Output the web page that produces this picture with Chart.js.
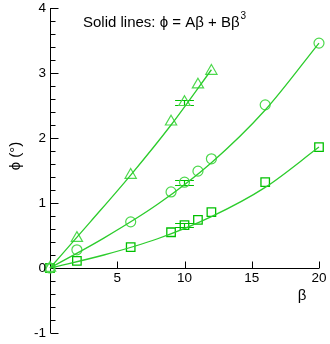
<!DOCTYPE html>
<html>
<head>
<meta charset="utf-8">
<script src="https://cdn.jsdelivr.net/npm/chart.js@4"></script>
<style>
  body { margin: 0; background: #fff; }
  #wrap { width: 330px; height: 344px; }
</style>
</head>
<body>
<div id="wrap"><canvas id="chart" width="330" height="344"></canvas></div>
<script>
// measured points (beta, phi)
const betaTri = [0, 2, 6, 9, 10, 11, 12];
const phiTri = [0, 0.46, 1.43, 2.25, 2.55, 2.82, 3.03];
const betaCirc = [0, 2, 6, 9, 10, 11, 12, 16, 20];
const phiCirc = [0, 0.28, 0.71, 1.17, 1.32, 1.49, 1.68, 2.51, 3.46];
const betaSq = [0, 2, 6, 9, 10, 11, 12, 16, 20];
const phiSq = [0, 0.11, 0.32, 0.55, 0.66, 0.74, 0.86, 1.32, 1.86];

// fitted curves
const fitBetaTri = [0, 3, 6, 9, 12];
const fitPhiTri = [0, 0.71, 1.43, 2.2, 3.05];
const fitBeta = [0, 4, 8, 12, 16, 20];
const fitPhiCirc = [0, 0.46, 0.98, 1.62, 2.43, 3.46];
const fitPhiSq = [0, 0.2, 0.45, 0.79, 1.24, 1.86];

// error bars at beta = 10: [beta, phi, half height]
const errBars = [[10, 2.55, 0.04], [10, 1.32, 0.04], [10, 0.66, 0.035]];

const xTicks = [5, 10, 15, 20];
const yTicks = [-1, 0, 1, 2, 3, 4];

const lineColor = "#2ccc2c";
const sqColor = "#00c000";
const lightColor = "#4cd84c";

const pts = (xs, ys) => xs.map((x, i) => ({ x: x, y: ys[i] }));

const axesPlugin = {
  id: "axes",
  beforeDatasetsDraw(chart) {
    const { ctx, scales: { x, y } } = chart;
    ctx.save();
    ctx.strokeStyle = "#000";
    ctx.lineWidth = 1;
    const x0 = Math.round(x.getPixelForValue(0)) + 0.5;
    const y0 = Math.round(y.getPixelForValue(0)) + 0.5;
    ctx.beginPath();
    // y axis
    ctx.moveTo(x0, y.getPixelForValue(4));
    ctx.lineTo(x0, y.getPixelForValue(-1));
    // x axis
    ctx.moveTo(x0, y0);
    ctx.lineTo(x.getPixelForValue(20), y0);
    // y ticks, minor every 0.2
    for (let i = -5; i <= 20; i++) {
      const py = Math.round(y.getPixelForValue(i / 5)) + 0.5;
      const len = i % 5 === 0 ? 8 : 5;
      ctx.moveTo(x0, py);
      ctx.lineTo(x0 + len, py);
    }
    // x ticks
    for (const t of xTicks) {
      const px = Math.round(x.getPixelForValue(t)) + 0.5;
      ctx.moveTo(px, y0);
      ctx.lineTo(px, y0 - 7);
    }
    ctx.stroke();

    // error bars
    ctx.strokeStyle = sqColor;
    ctx.lineWidth = 1.2;
    ctx.beginPath();
    for (const [b, p, d] of errBars) {
      const px = x.getPixelForValue(b);
      const l = x.getPixelForValue(b - 0.7);
      const r = x.getPixelForValue(b + 0.7);
      const t = Math.round(y.getPixelForValue(p + d)) + 0.5;
      const bt = Math.round(y.getPixelForValue(p - d)) + 0.5;
      ctx.moveTo(l, t); ctx.lineTo(r, t);
      ctx.moveTo(l, bt); ctx.lineTo(r, bt);
      ctx.moveTo(px, t); ctx.lineTo(px, bt);
    }
    ctx.stroke();
    ctx.restore();
  },
  afterDraw(chart) {
    const { ctx, scales: { x, y } } = chart;
    ctx.save();
    ctx.fillStyle = "#000";
    ctx.font = "13.5px 'Liberation Sans', Arial, sans-serif";
    // y tick labels
    ctx.textAlign = "right";
    ctx.textBaseline = "middle";
    for (const t of yTicks) {
      ctx.fillText(String(t), 46, y.getPixelForValue(t));
    }
    // x tick labels
    ctx.textAlign = "center";
    ctx.textBaseline = "top";
    const y0 = y.getPixelForValue(0);
    for (const t of xTicks) {
      ctx.fillText(String(t), x.getPixelForValue(t), y0 + 4);
    }
    // axis titles
    ctx.font = "15px 'Liberation Sans', Arial, sans-serif";
    ctx.fillText("β", 302, 288);
    ctx.save();
    ctx.translate(16, 156);
    ctx.rotate(-Math.PI / 2);
    ctx.textBaseline = "middle";
    ctx.fillText("ϕ (°)", 0, 0);
    ctx.restore();
    // legend text
    ctx.font = "15px 'Liberation Sans', Arial, sans-serif";
    ctx.textAlign = "left";
    ctx.textBaseline = "alphabetic";
    const txt = "Solid lines: ϕ = Aβ + Bβ";
    ctx.fillText(txt, 83, 27);
    const w = ctx.measureText(txt).width;
    ctx.font = "10px 'Liberation Sans', Arial, sans-serif";
    ctx.fillText("3", 83 + w + 1, 19);
    ctx.restore();
  },
};

new Chart(document.getElementById("chart"), {
  type: "scatter",
  data: {
    datasets: [
      {
        data: pts(fitBetaTri, fitPhiTri), showLine: true, pointRadius: 0,
        borderColor: lineColor, borderWidth: 1.3, cubicInterpolationMode: "monotone",
      },
      {
        data: pts(fitBeta, fitPhiCirc), showLine: true, pointRadius: 0,
        borderColor: lineColor, borderWidth: 1.3, cubicInterpolationMode: "monotone",
      },
      {
        data: pts(fitBeta, fitPhiSq), showLine: true, pointRadius: 0,
        borderColor: lineColor, borderWidth: 1.3, cubicInterpolationMode: "monotone",
      },
      {
        data: pts(betaTri, phiTri), pointStyle: "triangle", pointRadius: 6.5,
        borderColor: lightColor, backgroundColor: "rgba(0,0,0,0)", borderWidth: 1.2,
      },
      {
        data: pts(betaCirc, phiCirc), pointStyle: "circle", pointRadius: 5,
        borderColor: lightColor, backgroundColor: "rgba(0,0,0,0)", borderWidth: 1.2,
      },
      {
        data: pts(betaSq, phiSq), pointStyle: "rect", pointRadius: 6,
        borderColor: sqColor, backgroundColor: "rgba(0,0,0,0)", borderWidth: 1.3,
      },
    ].map((d) => Object.assign({ clip: false }, d)),
  },
  options: {
    responsive: false,
    animation: false,
    layout: { padding: { left: 50, right: 11, top: 8, bottom: 11 } },
    scales: {
      x: { type: "linear", min: 0, max: 20, display: false },
      y: { type: "linear", min: -1, max: 4, display: false },
    },
    plugins: {
      legend: { display: false },
      tooltip: { enabled: false },
    },
    elements: { point: { hoverRadius: 5 } },
  },
  plugins: [axesPlugin],
});
</script>
</body>
</html>
